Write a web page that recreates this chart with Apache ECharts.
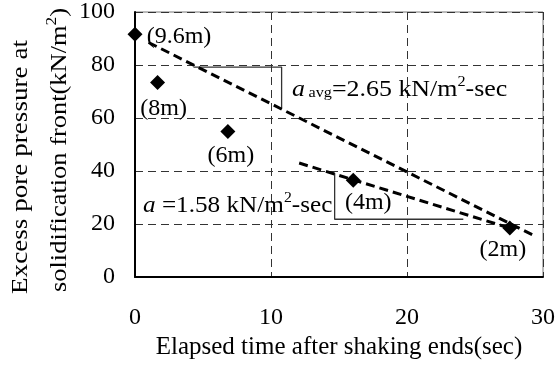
<!DOCTYPE html>
<html><head><meta charset="utf-8">
<script src="https://cdn.jsdelivr.net/npm/echarts@6/dist/echarts.min.js"></script>
<style>html,body{margin:0;padding:0;background:#fff}#c{width:558px;height:365px}</style>
</head><body><div id="c"></div>
<script>
// ---- data ----
const depthLabels = ['(9.6m)', '(8m)', '(6m)', '(4m)', '(2m)'];
const elapsedTime = [0, 1.66, 6.83, 16.05, 27.56];
const porePressure = [91.6, 73.4, 54.9, 36.5, 18.5];
const avgFitTime = [1.0, 29.5];
const avgFitPressure = [88.5, 15.2];
const localFitTime = [12.07, 27.4];
const localFitPressure = [43.0, 18.7];
const avgTriTime = [4.3, 10.78, 10.78];
const avgTriPressure = [79.2, 79.2, 63.8];
const localTriTime = [14.68, 14.68, 24.14];
const localTriPressure = [39.2, 21.8, 21.8];
const xTicks = [0, 10, 20, 30];
const yTicks = [0, 20, 40, 60, 80, 100];
const xTitle = 'Elapsed time after shaking ends(sec)';
const yTitle1 = 'Excess pore pressure at';
const yTitle2 = 'solidification front(kN/m';
const avgNote = ['a', 'avg', '=2.65 kN/m', '2', '-sec'];
const localNote = ['a', '=1.58 kN/m', '2', '-sec'];

// ---- styles ----
const FONT = '"Liberation Serif", "Times New Roman", serif';
const labelOffsets = [[44, 2], [6, 26], [3, 24], [15, 22], [-7, 22]];
const zip = (a, b) => a.map((v, i) => [v, b[i]]);
const fitStyle = { color: '#000', width: 3, type: [9, 5] };
const triStyle = { color: '#333', width: 1.3, type: 'solid' };

const chart = echarts.init(document.getElementById('c'), null, { renderer: 'canvas' });
const richBase = {
  n: { fontFamily: FONT, fontSize: 24, color: '#000', lineHeight: 30, verticalAlign: 'middle' },
  it: { fontFamily: FONT, fontSize: 24, fontStyle: 'italic', color: '#000', lineHeight: 30, verticalAlign: 'middle' },
  sub: { fontFamily: FONT, fontSize: 15, color: '#000', lineHeight: 30, verticalAlign: 'middle', padding: [6, 0, 0, 0] },
  sup: { fontFamily: FONT, fontSize: 15, color: '#000', lineHeight: 15, verticalAlign: 'top' }
};
chart.setOption({
  backgroundColor: '#fff',
  animation: false,
  grid: { left: 135, right: 13, top: 11, bottom: 88, show: true, borderColor: '#777', borderWidth: 1 },
  xAxis: {
    type: 'value', min: xTicks[0], max: xTicks[xTicks.length - 1], interval: xTicks[1] - xTicks[0],
    axisLine: { show: true, onZero: false, lineStyle: { color: '#000', width: 2 } },
    axisTick: { show: false },
    axisLabel: { color: '#000', fontFamily: FONT, fontSize: 24, margin: 29 },
    splitLine: { show: true, lineStyle: { color: '#333', width: 1, type: [8, 5] } },
    name: xTitle, nameLocation: 'middle', nameGap: 56,
    nameTextStyle: { color: '#000', fontFamily: FONT, fontSize: 25 }
  },
  yAxis: {
    type: 'value', min: yTicks[0], max: yTicks[yTicks.length - 1], interval: yTicks[1] - yTicks[0],
    axisLine: { show: true, onZero: false, lineStyle: { color: '#000', width: 2 } },
    axisTick: { show: false },
    axisLabel: { color: '#000', fontFamily: FONT, fontSize: 24, margin: 20 },
    splitLine: { show: true, lineStyle: { color: '#333', width: 1, type: [8, 5] } }
  },
  series: [
    { type: 'line', data: zip(avgTriTime, avgTriPressure), symbol: 'none', lineStyle: triStyle, z: 2 },
    { type: 'line', data: zip(localTriTime, localTriPressure), symbol: 'none', lineStyle: triStyle, z: 2 },
    { type: 'line', data: zip(avgFitTime, avgFitPressure), symbol: 'none', lineStyle: fitStyle, z: 3 },
    { type: 'line', data: zip(localFitTime, localFitPressure), symbol: 'none', lineStyle: fitStyle, z: 3 },
    {
      type: 'scatter', symbol: 'diamond', symbolSize: 15, itemStyle: { color: '#000', opacity: 1 }, z: 4,
      data: elapsedTime.map((t, i) => ({
        value: [t, porePressure[i]],
        label: { show: true, formatter: depthLabels[i], position: 'inside', offset: labelOffsets[i],
          color: '#000', opacity: 1, textBorderWidth: 0, textBorderColor: 'transparent', fontFamily: FONT, fontSize: 24 }
      }))
    }
  ],
  graphic: [
    { type: 'text', x: 292, y: 90, z: 10, scaleX: 1.08,
      style: { text: `{it|${avgNote[0]}} {sub|${avgNote[1]}}{n|${avgNote[2]}}{sup|${avgNote[3]}}{n|${avgNote[4]}}`,
        rich: richBase, align: 'left', verticalAlign: 'middle' } },
    { type: 'text', x: 143, y: 206, z: 10, scaleX: 1.05,
      style: { text: `{it|${localNote[0]}}{n| ${localNote[1]}}{sup|${localNote[2]}}{n|${localNote[3]}}`,
        rich: richBase, align: 'left', verticalAlign: 'middle' } },
    { type: 'text', x: 21, y: 167, rotation: Math.PI / 2, scaleX: 1.18, z: 10,
      style: { text: yTitle1, font: '23px ' + FONT, fill: '#000', align: 'center', verticalAlign: 'middle' } },
    { type: 'text', x: 60, y: 150, rotation: Math.PI / 2, scaleX: 1.15, z: 10,
      style: { text: `{n|${yTitle2}}{sup|2}{n|)}`,
        rich: { n: { fontFamily: FONT, fontSize: 23, color: '#000', lineHeight: 30, verticalAlign: 'middle' },
                sup: richBase.sup },
        align: 'center', verticalAlign: 'middle' } }
  ]
});
</script></body></html>
